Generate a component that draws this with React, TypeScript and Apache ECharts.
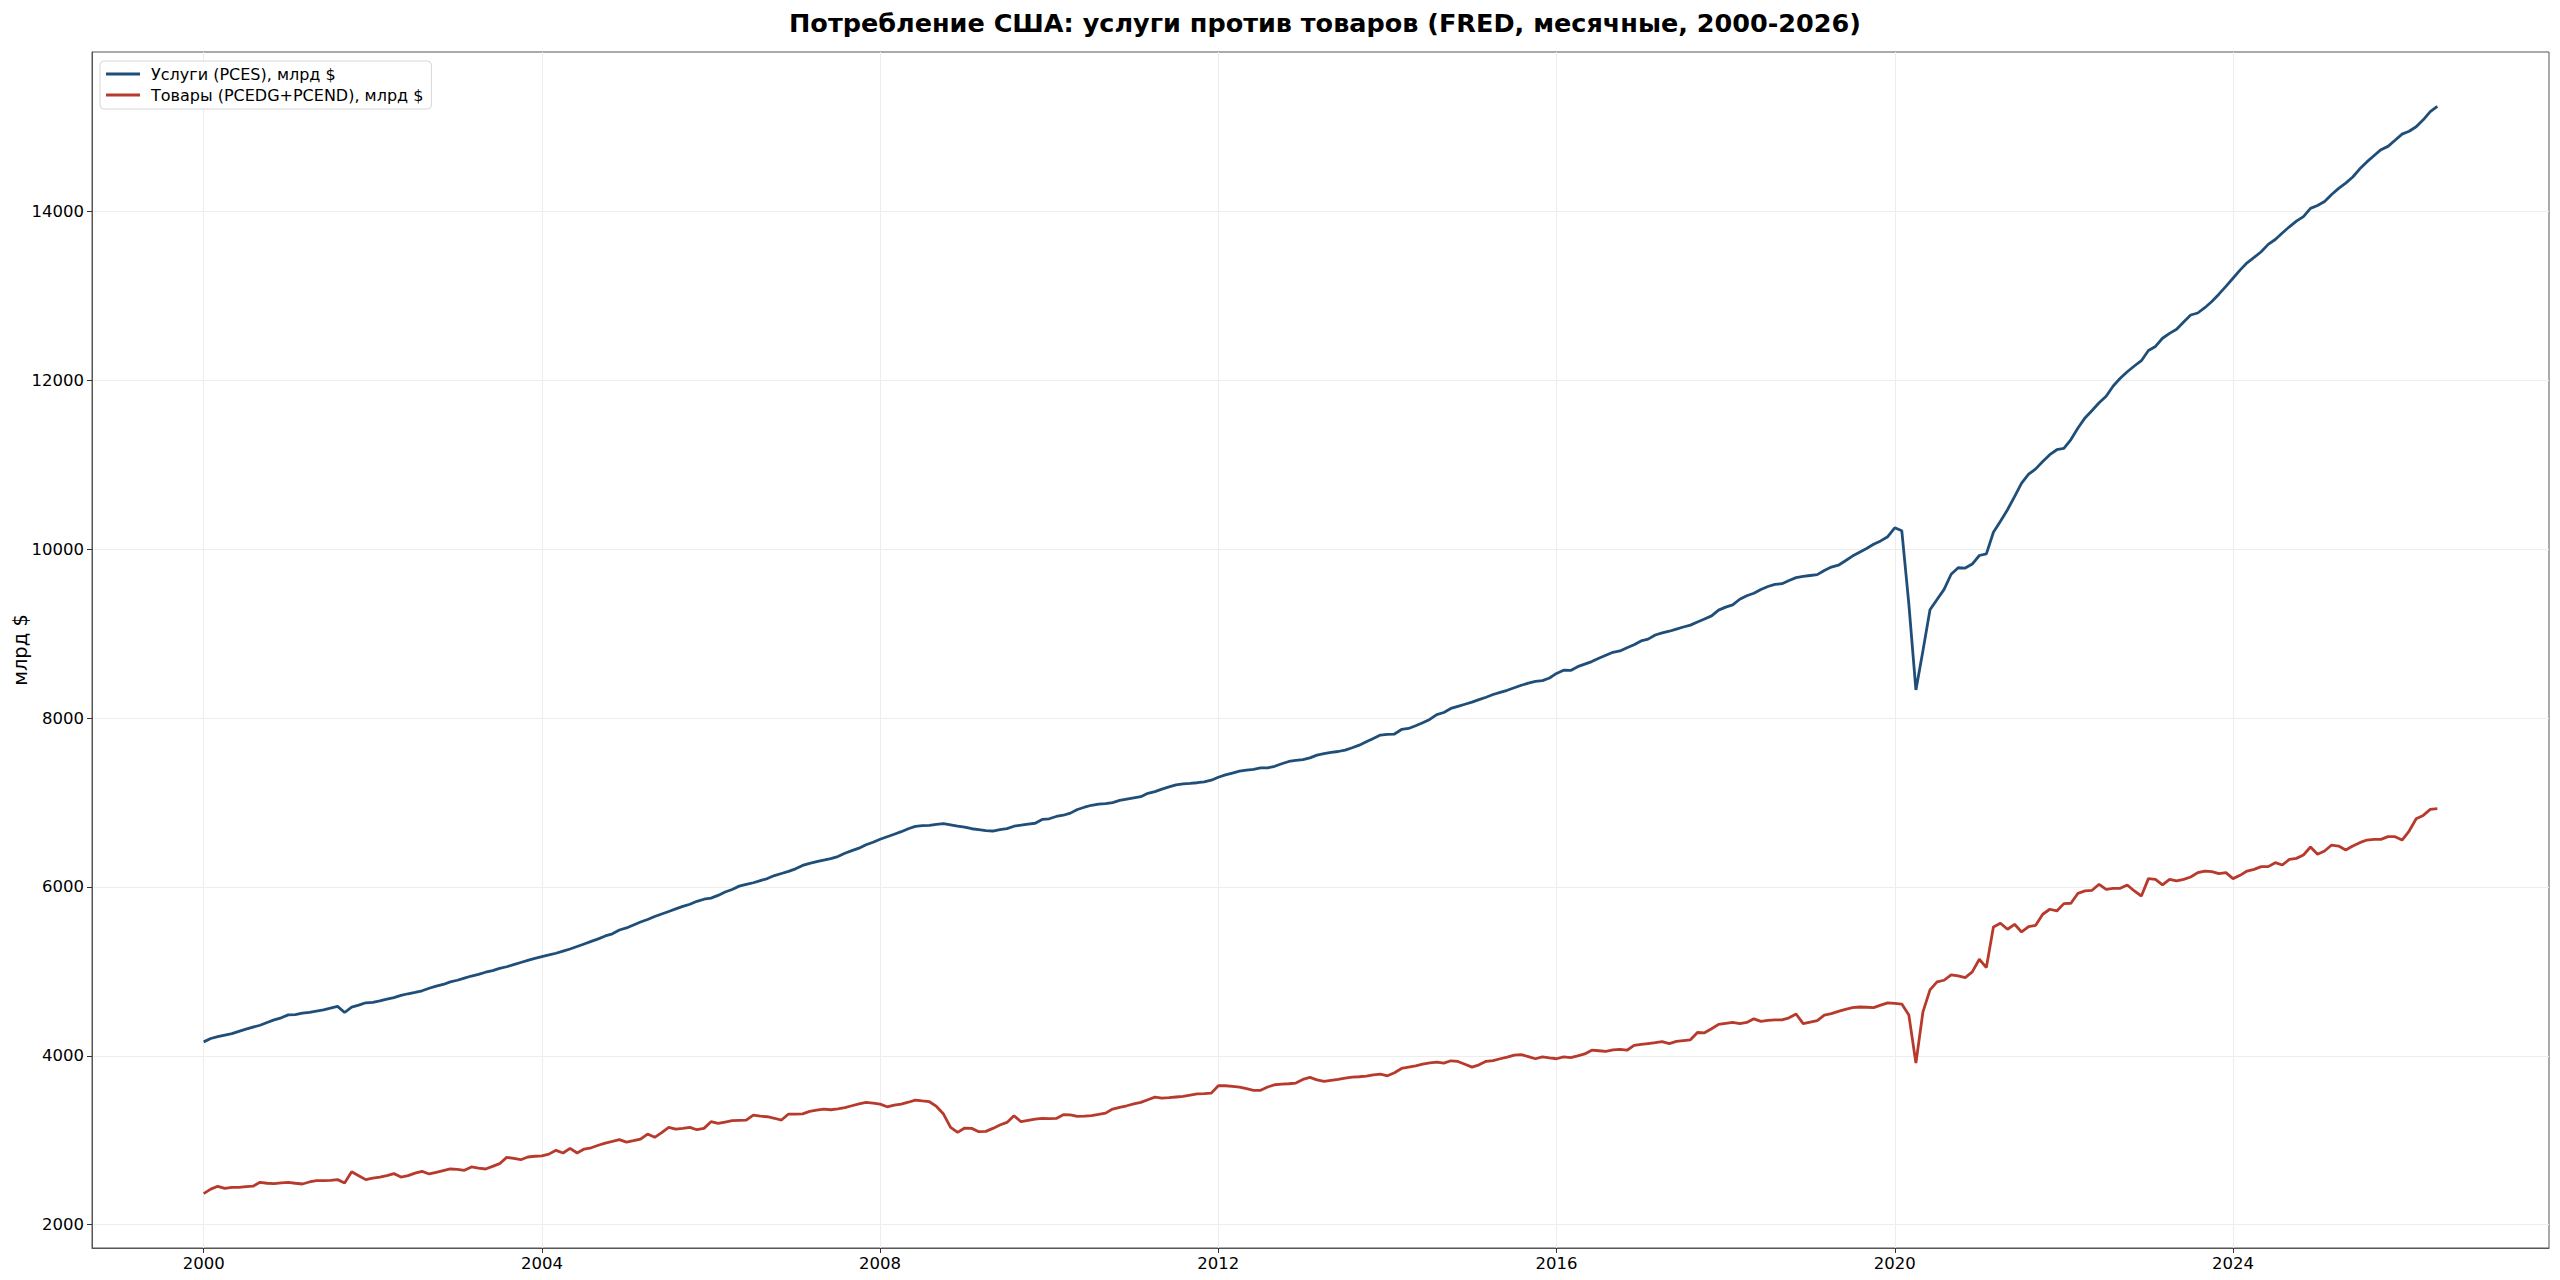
import React, { useEffect, useRef } from "react";
import * as echarts from "echarts";

// Monthly data, 2000-01 .. 2026-06 (billions of $)
const START_YEAR = 2000;

const SERVICES: number[] = [
  // 2000
  4165, 4205, 4228, 4245, 4262, 4290, 4315, 4340, 4362, 4395, 4425, 4450,
  // 2001
  4485, 4488, 4505, 4515, 4530, 4544, 4565, 4585, 4513, 4576, 4600, 4628,
  // 2002
  4632, 4650, 4672, 4690, 4715, 4735, 4752, 4770, 4800, 4825, 4845, 4875,
  // 2003
  4895, 4920, 4945, 4965, 4990, 5010, 5035, 5055, 5080, 5105, 5130, 5155,
  // 2004
  5176, 5195, 5215, 5240, 5265, 5295, 5325, 5355, 5385, 5420, 5445, 5490,
  // 2005
  5515, 5550, 5585, 5615, 5650, 5680, 5710, 5740, 5770, 5795, 5830, 5855,
  // 2006
  5868, 5900, 5940, 5970, 6010, 6030, 6050, 6075, 6100, 6135, 6160, 6185,
  // 2007
  6215, 6255, 6280, 6300, 6318, 6335, 6360, 6400, 6430, 6460, 6500, 6530,
  // 2008
  6565, 6595, 6625, 6655, 6690, 6718, 6728, 6730, 6742, 6750, 6735, 6720,
  // 2009
  6710, 6690, 6680, 6668, 6663, 6680, 6692, 6720, 6732, 6745, 6755, 6800,
  // 2010
  6808, 6835, 6850, 6875, 6918, 6945, 6968, 6982, 6988, 7000, 7025, 7040,
  // 2011
  7055, 7070, 7110, 7130, 7160, 7185, 7210, 7222, 7228, 7235, 7245, 7265,
  // 2012
  7300, 7328, 7350, 7372, 7385, 7393, 7412, 7410, 7430, 7460, 7487, 7500,
  // 2013
  7510, 7530, 7562, 7580, 7595, 7605, 7622, 7650, 7680, 7720, 7760, 7800,
  // 2014
  7808, 7812, 7866, 7878, 7910, 7945, 7985, 8043, 8067, 8115, 8140, 8165,
  // 2015
  8190, 8220, 8248, 8280, 8305, 8330, 8360, 8390, 8415, 8435, 8445, 8476,
  // 2016
  8530, 8568, 8565, 8610, 8640, 8670, 8710, 8745, 8780, 8796, 8835, 8870,
  // 2017
  8915, 8936, 8985, 9010, 9030, 9055, 9080, 9102, 9140, 9175, 9212, 9280,
  // 2018
  9315, 9343, 9409, 9450, 9480, 9525, 9560, 9584, 9593, 9630, 9665, 9680,
  // 2019
  9690, 9700, 9750, 9790, 9812, 9865, 9920, 9965, 10010, 10060, 10100, 10150,
  // 2020
  10255, 10220, 9350, 8335, 8800, 9284, 9405, 9526, 9705, 9782, 9778, 9826,
  // 2021
  9927, 9947, 10203, 10334, 10469, 10624, 10784, 10890, 10953, 11040, 11122, 11180,
  // 2022
  11195, 11301, 11437, 11557, 11645, 11736, 11814, 11935, 12027, 12104, 12172, 12235,
  // 2023
  12356, 12404, 12501, 12559, 12607, 12694, 12776, 12800, 12863, 12936, 13023, 13115,
  // 2024
  13212, 13308, 13395, 13458, 13526, 13613, 13671, 13748, 13821, 13889, 13942, 14039,
  // 2025
  14073, 14121, 14203, 14276, 14339, 14411, 14508, 14590, 14663, 14735, 14774, 14846,
  // 2026
  14919, 14953, 15006, 15088, 15185, 15248,
];

const GOODS: number[] = [
  // 2000
  2367, 2420, 2454, 2430, 2440, 2442, 2450, 2455, 2501, 2490, 2485, 2495,
  // 2001
  2500, 2490, 2481, 2505, 2521, 2522, 2525, 2533, 2493, 2627, 2580, 2533,
  // 2002
  2550, 2564, 2580, 2604, 2564, 2580, 2610, 2631, 2600, 2620, 2640, 2659,
  // 2003
  2655, 2643, 2683, 2670, 2659, 2690, 2722, 2797, 2785, 2769, 2801, 2810,
  // 2004
  2815, 2835, 2880, 2848, 2904, 2848, 2895, 2910, 2940, 2966, 2985, 3006,
  // 2005
  2978, 2995, 3014, 3073, 3034, 3090, 3152, 3132, 3140, 3152, 3124, 3140,
  // 2006
  3219, 3199, 3215, 3231, 3235, 3239, 3298, 3285, 3278, 3260, 3239, 3310,
  // 2007
  3310, 3312, 3341, 3355, 3369, 3361, 3370, 3385, 3408, 3430, 3448, 3440,
  // 2008
  3428, 3396, 3415, 3428, 3450, 3475, 3465, 3456, 3400, 3310, 3152, 3093,
  // 2009
  3144, 3140, 3101, 3105, 3140, 3180, 3211, 3290, 3219, 3235, 3250, 3258,
  // 2010
  3255, 3258, 3302, 3300, 3282, 3285, 3290, 3305, 3321, 3369, 3390, 3408,
  // 2011
  3430, 3448, 3480, 3511, 3499, 3505, 3512, 3519, 3535, 3550, 3553, 3558,
  // 2012
  3645, 3645, 3638, 3629, 3610, 3590, 3592, 3630, 3657, 3665, 3669, 3677,
  // 2013
  3720, 3744, 3715, 3696, 3710, 3722, 3735, 3748, 3752, 3758, 3775, 3783,
  // 2014
  3763, 3800, 3850, 3866, 3882, 3900, 3915, 3925, 3913, 3941, 3933, 3900,
  // 2015
  3866, 3893, 3935, 3943, 3965, 3985, 4009, 4014, 3990, 3965, 3987, 3975,
  // 2016
  3965, 3987, 3979, 4000, 4022, 4066, 4060, 4053, 4070, 4075, 4066, 4123,
  // 2017
  4135, 4145, 4155, 4167, 4145, 4170, 4180, 4189, 4276, 4272, 4320, 4373,
  // 2018
  4385, 4395, 4381, 4395, 4438, 4408, 4420, 4425, 4425, 4450, 4495, 4381,
  // 2019
  4400, 4416, 4482, 4500, 4526, 4550, 4570, 4578, 4575, 4570, 4600, 4627,
  // 2020
  4620, 4613, 4482, 3913, 4521, 4781, 4876, 4895, 4959, 4947, 4927, 4994,
  // 2021
  5144, 5045, 5527, 5570, 5499, 5558, 5467, 5531, 5546, 5677, 5736, 5716,
  // 2022
  5803, 5807, 5925, 5953, 5961, 6032, 5972, 5984, 5984, 6024, 5953, 5893,
  // 2023
  6099, 6091, 6024, 6091, 6071, 6091, 6118, 6170, 6189, 6181, 6158, 6170,
  // 2024
  6099, 6138, 6189, 6209, 6241, 6241, 6288, 6260, 6327, 6339, 6379, 6473,
  // 2025
  6387, 6426, 6497, 6485, 6438, 6485, 6525, 6556, 6564, 6564, 6596, 6596,
  // 2026
  6556, 6663, 6809, 6848, 6919, 6927,
];

const X_TICKS: number[] = [2000, 2004, 2008, 2012, 2016, 2020, 2024];
const Y_TICKS: number[] = [2000, 4000, 6000, 8000, 10000, 12000, 14000];

const TITLE = "Потребление США: услуги против товаров (FRED, месячные, 2000-2026)";
const SERIES_NAMES = ["Услуги (PCES), млрд $", "Товары (PCEDG+PCEND), млрд $"];
const Y_NAME = "млрд $";

const COLORS = ["#1f4e79", "#b83a2c"];
const FONT = "DejaVu Sans";

export default function App() {
  const ref = useRef<HTMLDivElement | null>(null);

  useEffect(() => {
    if (!ref.current) return;
    const chart = echarts.init(ref.current, null, { renderer: "svg" });

    // month positions as fractional years
    const xs = SERVICES.map((_, i) => START_YEAR + i / 12);
    const xMinData = xs[0];
    const xMaxData = xs[xs.length - 1];
    const xPad = (xMaxData - xMinData) * 0.05;

    const all = SERVICES.concat(GOODS);
    const yMinData = Math.min(...all);
    const yMaxData = Math.max(...all);
    const yPad = (yMaxData - yMinData) * 0.05;

    const servicesData = SERVICES.map((v, i) => [xs[i], v]);
    const goodsData = GOODS.map((v, i) => [xs[i], v]);

    const option: any = {
      animation: false,
      backgroundColor: "#ffffff",
      textStyle: { fontFamily: FONT },
      title: {
        text: TITLE,
        left: 1320,
        top: 5,
        textAlign: "center",
        textStyle: {
          fontFamily: FONT,
          fontSize: 25.5,
          fontWeight: "bold",
          color: "#000000",
        },
      },
      legend: {
        orient: "vertical",
        left: 100,
        top: 61,
        data: SERIES_NAMES.map((n) => ({ name: n, icon: "rect" })),
        itemWidth: 34,
        itemHeight: 3,
        itemGap: 5,
        padding: [5, 8, 6, 6],
        backgroundColor: "rgba(255,255,255,0.85)",
        borderColor: "#d6d6d6",
        borderWidth: 1,
        borderRadius: 4,
        textStyle: { fontFamily: FONT, fontSize: 16, color: "#000000", padding: [0, 0, 0, 6] },
      },
      grid: {
        left: 92,
        right: 11,
        top: 52,
        bottom: 32,
        show: true,
        borderColor: "#555555",
        borderWidth: 1,
        backgroundColor: "transparent",
        containLabel: false,
        outerBoundsMode: "none",
      },
      xAxis: {
        type: "value",
        min: xMinData - xPad,
        max: xMaxData + xPad,
        axisLine: { show: true, lineStyle: { color: "#555555", width: 1 } },
        axisTick: {
          show: true,
          customValues: X_TICKS,
          length: 5,
          lineStyle: { color: "#333333", width: 1 },
        },
        axisLabel: {
          customValues: X_TICKS,
          formatter: (v: number) => String(Math.round(v)),
          margin: 7,
          fontFamily: FONT,
          fontSize: 16.5,
          color: "#000000",
        },
        splitLine: { show: true, lineStyle: { color: "#ededed", width: 1 } },
      },
      yAxis: {
        type: "value",
        min: yMinData - yPad,
        max: yMaxData + yPad,
        name: Y_NAME,
        nameLocation: "middle",
        nameGap: 62,
        nameMoveOverlap: false,
        nameRotate: 90,
        nameTextStyle: { fontFamily: FONT, fontSize: 19.5, color: "#000000" },
        axisLine: { show: true, lineStyle: { color: "#555555", width: 1 } },
        axisTick: {
          show: true,
          customValues: Y_TICKS,
          length: 5,
          lineStyle: { color: "#333333", width: 1 },
        },
        axisLabel: {
          customValues: Y_TICKS,
          formatter: (v: number) => String(Math.round(v)),
          margin: 8,
          fontFamily: FONT,
          fontSize: 16.5,
          color: "#000000",
        },
        splitLine: { show: true, lineStyle: { color: "#ededed", width: 1 } },
      },
      series: [
        {
          name: SERIES_NAMES[0],
          type: "line",
          data: servicesData,
          symbol: "none",
          showSymbol: false,
          lineStyle: { color: COLORS[0], width: 2.8 },
          itemStyle: { color: COLORS[0] },
          z: 3,
        },
        {
          name: SERIES_NAMES[1],
          type: "line",
          data: goodsData,
          symbol: "none",
          showSymbol: false,
          lineStyle: { color: COLORS[1], width: 2.8 },
          itemStyle: { color: COLORS[1] },
          z: 3,
        },
      ],
    };

    chart.setOption(option);
    return () => {
      chart.dispose();
    };
  }, []);

  return (
    <div
      ref={ref}
      style={{
        position: "fixed",
        left: 0,
        top: 0,
        width: 2560,
        height: 1280,
        background: "#ffffff",
      }}
    />
  );
}
